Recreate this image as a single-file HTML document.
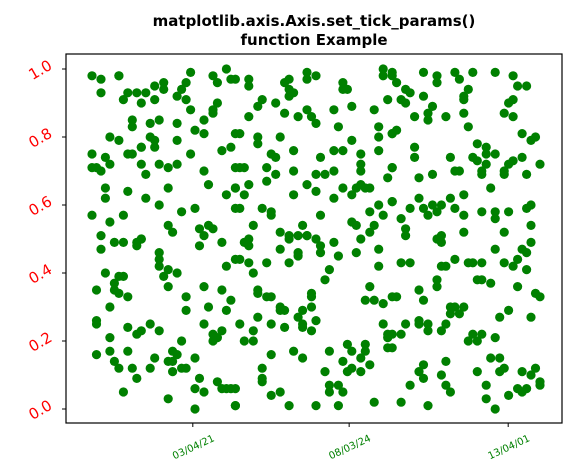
<!DOCTYPE html>
<html><head><meta charset="utf-8"><style>
html,body{margin:0;padding:0;background:#fff;}
svg{display:block;font-family:"DejaVu Sans","Liberation Sans",sans-serif;}
</style></head>
<body>
<svg id="chart" width="586" height="473" viewBox="0 0 586 473" xmlns="http://www.w3.org/2000/svg">
<rect x="0" y="0" width="586" height="473" fill="#fff"/>
<text x="314" y="26" text-anchor="middle" font-size="15" font-weight="bold">matplotlib.axis.Axis.set_tick_params()</text>
<text x="314" y="45" text-anchor="middle" font-size="15" font-weight="bold">function Example</text>
<g id="points"></g>
<rect x="66" y="54" width="496" height="369" fill="none" stroke="#000" stroke-width="1.2"/>
<g id="yticks"></g>
<g id="xticks"></g>
</svg>
<script>
const xs = [0,2,6,6,2,22,27,30,31,28,16,14,16,21,20,19,21,8,10,12,7,11,14,22,28,27,27,25,9,9,13,15,19,23,25,32,4,6,13,14,14,11,11,19,22,29,31,0,3,4,0,1,2,8,9,11,15,17,19,12,25,32,3,3,8,12,15,17,26,30,32,32,0,7,20,23,4,2,17,18,24,26,27,25,11,
35,35,32,43,44,44,45,44,48,48,50,56,56,57,65,65,67,66,38,37,41,43,46,48,49,50,54,58,63,35,33,55,58,64,64,67,37,37,42,45,40,41,51,54,56,60,60,64,33,34,39,41,39,45,50,52,54,60,66,67,32,35,34,48,50,45,54,56,58,59,60,61,62,33,38,40,40,51,62,64,65,67,36,42,47,48,44,46,58,59,63,62,
67,68,74,77,77,81,82,85,90,94,95,97,70,71,74,69,70,84,83,83,76,75,75,72,79,83,84,93,94,92,94,68,67,96,99,98,72,72,80,86,88,88,90,85,86,88,96,100,94,93,92,67,81,82,87,87,92,97,73,76,89,67,73,74,71,76,77,78,80,83,81,83,75,69,87,90,90,93,97,98,70,70,83,92,98,78,
2,5,7,10,11,10,15,15,15,17,16,19,24,29,30,32,3,6,7,5,5,6,8,1,4,17,21,21,25,29,31,26,30,1,1,8,10,11,13,15,25,27,29,28,27,4,20,1,4,8,5,6,14,13,9,10,18,19,17,18,18,20,21,23,24,23,25,28,29,30,31,7,17,23,32,
34,35,35,44,48,50,51,51,54,42,46,46,44,55,59,60,64,64,33,35,39,36,53,52,37,37,39,40,42,43,42,49,49,49,47,62,61,63,65,67,37,33,36,40,43,46,47,47,49,50,34,36,65,66,66,66,40,45,47,53,57,58,61,61,60,56,62,52,57,58,60,38,38,38,53,55,53,56,40,42,44,50,55,63,32,32,
77,78,90,96,97,98,95,94,97,92,69,71,78,79,81,84,85,87,77,77,86,87,89,95,99,100,68,73,74,80,81,83,80,82,91,93,98,70,73,73,75,75,78,79,69,67,85,87,84,86,90,67,74,79,73,74,78,79,80,71,86,89,91,92,91,96,99,98,100,100,88,88,90,93,95,96,97,69,75];
const ys = [98,97,98,98,93,99,98,100,97,96,96,95,94,96,94,92,91,93,93,93,91,90,91,88,90,88,87,85,85,83,84,85,84,82,81,81,80,79,80,79,77,77,77,79,75,76,77,75,74,72,71,71,70,75,75,72,72,71,72,69,70,71,65,62,64,62,60,65,66,63,65,59,57,57,58,59,55,51,54,52,53,54,53,51,50,
97,95,97,96,97,94,93,92,99,97,98,96,94,94,100,98,98,91,91,89,90,87,86,88,86,84,88,89,88,86,81,83,79,83,80,81,80,78,80,76,75,74,74,76,76,75,72,76,71,71,71,69,67,70,69,69,70,70,68,71,65,66,63,66,64,63,62,65,63,65,66,65,65,59,59,58,57,57,58,60,57,61,54,52,54,51,51,51,55,54,54,52,
99,96,99,98,96,99,97,99,99,98,95,95,94,93,92,91,90,94,92,91,89,87,85,86,86,87,83,90,91,87,86,82,81,81,80,79,77,74,74,78,77,75,75,74,73,72,74,72,73,72,70,71,70,70,70,69,69,69,68,69,65,61,62,59,59,60,58,60,62,63,59,57,57,56,58,58,56,58,59,60,53,51,52,52,54,51,
47,49,49,49,50,48,46,44,42,41,39,40,48,49,42,44,40,39,39,37,35,34,33,35,30,36,33,29,36,35,32,30,29,25,26,24,22,23,25,23,25,22,23,21,20,21,20,16,17,17,14,12,15,12,12,9,17,16,14,14,11,12,12,15,9,6,5,8,6,6,6,5,3,0,1,
49,50,48,50,51,50,48,46,49,47,46,45,43,45,46,50,47,42,44,43,43,40,41,38,35,34,33,33,30,29,29,34,33,30,29,36,32,32,31,33,27,25,23,25,24,27,25,24,23,26,20,20,25,22,21,18,16,17,15,17,19,17,19,17,15,14,13,11,11,12,11,12,9,8,7,7,5,5,4,5,1,1,1,2,6,1,
50,49,47,47,46,49,44,42,41,43,43,43,42,42,44,43,43,43,38,36,38,38,37,36,34,33,33,35,32,30,30,30,28,28,27,29,27,25,26,25,25,23,23,25,22,22,22,22,20,20,21,18,13,14,11,9,10,7,5,7,11,15,15,12,11,11,12,10,8,7,7,3,0,4,6,5,6,2,1];
const xTickVals = [22.5, 57.4, 92.9];
const xTickLabels = ["03/04/21", "08/03/24", "13/04/01"];
const yTickVals = [0, 20, 40, 60, 80, 100];
const yTickLabels = ["0.0", "0.2", "0.4", "0.6", "0.8", "1.0"];

const NS = "http://www.w3.org/2000/svg";
const xScale = v => 92 + v * 4.48;
const yScale = v => 409 - v * 3.4;

const pts = document.getElementById('points');
const n = Math.min(xs.length, ys.length);
for (let i = 0; i < n; i++) {
  const c = document.createElementNS(NS, 'circle');
  c.setAttribute('cx', xScale(xs[i]).toFixed(1));
  c.setAttribute('cy', yScale(ys[i]).toFixed(1));
  c.setAttribute('r', 4.6);
  c.setAttribute('fill', '#008000');
  
  
  pts.appendChild(c);
}

const yg = document.getElementById('yticks');
yTickVals.forEach((v, i) => {
  const y = yScale(v);
  const t = document.createElementNS(NS, 'line');
  t.setAttribute('x1', 62); t.setAttribute('x2', 66);
  t.setAttribute('y1', y); t.setAttribute('y2', y);
  t.setAttribute('stroke', '#000');
  
  
  yg.appendChild(t);
  const tx = document.createElementNS(NS, 'text');
  tx.setAttribute('x', 52); tx.setAttribute('y', y + 5);
  tx.setAttribute('text-anchor', 'end');
  tx.setAttribute('font-size', '15');
  tx.setAttribute('fill', '#ff0000');
  tx.setAttribute('transform', 'rotate(-30 42 ' + y + ')');
  tx.textContent = yTickLabels[i];
  
  
  yg.appendChild(tx);
});

const xg = document.getElementById('xticks');
xTickVals.forEach((v, i) => {
  const x = xScale(v);
  const t = document.createElementNS(NS, 'line');
  t.setAttribute('x1', x); t.setAttribute('x2', x);
  t.setAttribute('y1', 423); t.setAttribute('y2', 427);
  t.setAttribute('stroke', '#000');
  
  
  xg.appendChild(t);
  const tx = document.createElementNS(NS, 'text');
  tx.setAttribute('x', x + 2); tx.setAttribute('y', 450);
  tx.setAttribute('text-anchor', 'middle');
  tx.setAttribute('font-size', '10');
  tx.setAttribute('fill', '#008000');
  tx.setAttribute('transform', 'rotate(-25 ' + (x + 2) + ' 450)');
  tx.textContent = xTickLabels[i];
  
  
  xg.appendChild(tx);
});
</script>
</body></html>
